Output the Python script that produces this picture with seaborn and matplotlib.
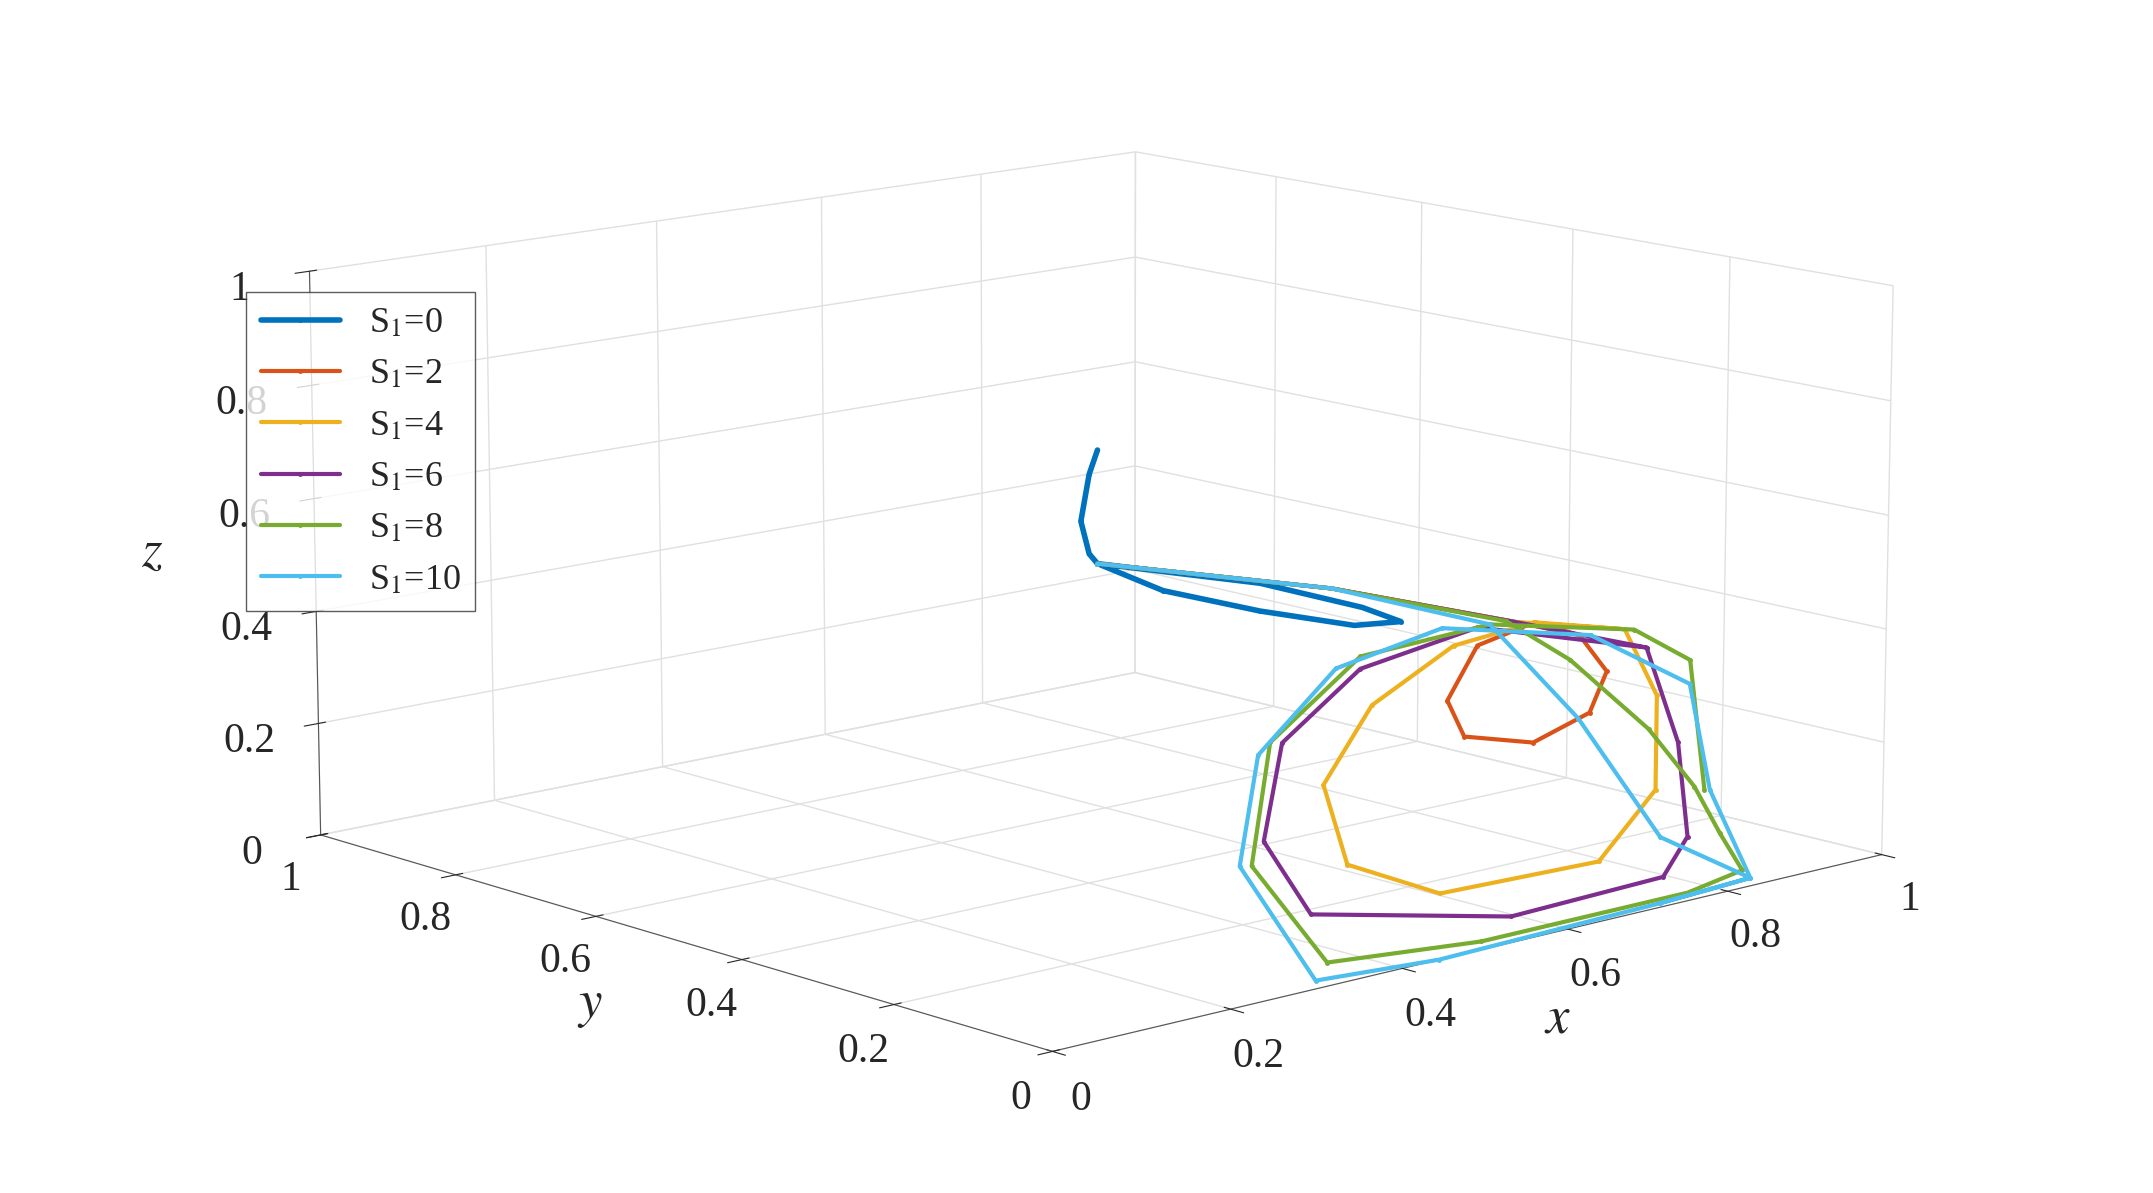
import numpy as np
import matplotlib
matplotlib.use("Agg")
import matplotlib.pyplot as plt
import seaborn as sns

# values (x, y, z) for each S1 trajectory
labels = ["S$_1$=0", "S$_1$=2", "S$_1$=4", "S$_1$=6", "S$_1$=8", "S$_1$=10"]
colors = ["#0072BD", "#D95319", "#EDB120", "#7E2F8E", "#77AC30", "#4DBEEE"]

s0 = [(0.50, 0.5, 0.70), (0.49, 0.5, 0.66), (0.48, 0.5, 0.58), (0.49, 0.5, 0.52),
      (0.50, 0.5, 0.50), (0.58, 0.5, 0.43), (0.70, 0.5, 0.36), (0.82, 0.5, 0.30),
      (0.88, 0.5, 0.29), (0.83, 0.5, 0.33), (0.70, 0.5, 0.41), (0.50, 0.5, 0.50)]
s2 = [(0.50, 0.5, 0.50), (0.60, 0.3, 0.49), (0.63, 0.1, 0.486), (0.711, 0.1, 0.44),
      (0.746, 0.1, 0.367), (0.725, 0.1, 0.301), (0.655, 0.1, 0.27), (0.57, 0.1, 0.306),
      (0.549, 0.1, 0.374), (0.585, 0.1, 0.458), (0.655, 0.1, 0.478), (0.711, 0.1, 0.44)]
s4 = [(0.50, 0.5, 0.50), (0.60, 0.3, 0.49), (0.63, 0.1, 0.486), (0.768, 0.1, 0.434),
      (0.81, 0.1, 0.306), (0.81, 0.1, 0.14), (0.739, 0.1, 0.036), (0.542, 0.1, 0.044),
      (0.43, 0.1, 0.13), (0.401, 0.1, 0.275), (0.458, 0.1, 0.393), (0.556, 0.1, 0.466),
      (0.655, 0.1, 0.478), (0.768, 0.1, 0.434)]
s6 = [(0.50, 0.5, 0.50), (0.60, 0.3, 0.49), (0.63, 0.1, 0.486), (0.796, 0.1, 0.394),
      (0.838, 0.1, 0.215), (0.852, 0.1, 0.044), (0.78, 0.06, 0.01), (0.58, 0.05, 0.01),
      (0.387, 0.1, 0.059), (0.331, 0.1, 0.201), (0.352, 0.1, 0.361), (0.444, 0.1, 0.459),
      (0.585, 0.1, 0.489), (0.796, 0.1, 0.394)]
s8 = [(0.50, 0.5, 0.50), (0.60, 0.3, 0.49), (0.62, 0.1, 0.49), (0.70, 0.1, 0.40),
      (0.80, 0.1, 0.25), (0.86, 0.1, 0.13), (0.873, 0.08, 0.05), (0.85, 0.03, 0.01),
      (0.77, 0.02, 0.0), (0.514, 0.02, 0.0), (0.359, 0.05, 0.005), (0.317, 0.1, 0.164),
      (0.338, 0.1, 0.366), (0.444, 0.1, 0.48), (0.60, 0.1, 0.49), (0.78, 0.1, 0.43),
      (0.852, 0.1, 0.356), (0.873, 0.1, 0.12)]
s10 = [(0.50, 0.5, 0.50), (0.60, 0.3, 0.49), (0.60, 0.1, 0.49), (0.711, 0.1, 0.295),
       (0.817, 0.1, 0.054), (0.85, 0.02, 0.0), (0.725, 0.01, 0.0), (0.444, 0.0, 0.0),
       (0.317, 0.02, 0.0), (0.303, 0.1, 0.168), (0.324, 0.1, 0.349), (0.415, 0.1, 0.468),
       (0.542, 0.1, 0.50), (0.725, 0.1, 0.436), (0.852, 0.1, 0.314), (0.88, 0.1, 0.118),
       (0.85, 0.02, 0.0), (0.725, 0.01, 0.0)]
series = [s0, s2, s4, s6, s8, s10]

ticks = [0, 0.2, 0.4, 0.6, 0.8, 1]
tick_labels = ["0", "0.2", "0.4", "0.6", "0.8", "1"]

sns.set_style("white")
plt.rcParams["font.family"] = ["Liberation Serif", "DejaVu Serif"]
plt.rcParams["mathtext.fontset"] = "stix"

fig = plt.figure(figsize=(21.53, 11.93), dpi=100)
ax = fig.add_axes([-0.08, -0.14, 1.16, 1.3], projection="3d")
ax.view_init(elev=12, azim=-132)
ax.set_box_aspect((1, 1, 0.52), zoom=1.05)

for pts, lab, col in zip(series, labels, colors):
    arr = np.array(pts)
    lw = 4 if lab == labels[0] else 3
    ax.plot(arr[:, 0], arr[:, 1], arr[:, 2], color=col, lw=lw, marker=".",
            markersize=5, label=lab)

for axis in (ax.xaxis, ax.yaxis, ax.zaxis):
    axis.set_pane_color((1, 1, 1, 1))
    axis._axinfo["grid"]["color"] = (0.88, 0.88, 0.88, 1)
    axis._axinfo["grid"]["linewidth"] = 1.0
    axis.line.set_color("#555555")

ax.set_xlim(0, 1); ax.set_ylim(0, 1); ax.set_zlim(0, 1)
ax.set_xticks(ticks); ax.set_yticks(ticks); ax.set_zticks(ticks)
ax.set_xticklabels(tick_labels, fontsize=30)
ax.set_yticklabels(tick_labels, fontsize=30)
ax.set_zticklabels(tick_labels, fontsize=30)
ax.tick_params(axis="x", pad=12)
ax.tick_params(axis="y", pad=12)
ax.tick_params(axis="z", pad=18)
ax.set_xlabel("$x$", fontsize=38, labelpad=30)
ax.set_ylabel("$y$", fontsize=38, labelpad=30)
ax.set_zlabel("$z$", fontsize=38, labelpad=40)

leg = fig.legend(loc="upper left", bbox_to_anchor=(0.106, 0.77), fontsize=26,
                 frameon=True, fancybox=False, edgecolor="#333333",
                 handlelength=2.2, labelspacing=0.5, borderpad=0.4)

fig.savefig("out.png", dpi=100)
